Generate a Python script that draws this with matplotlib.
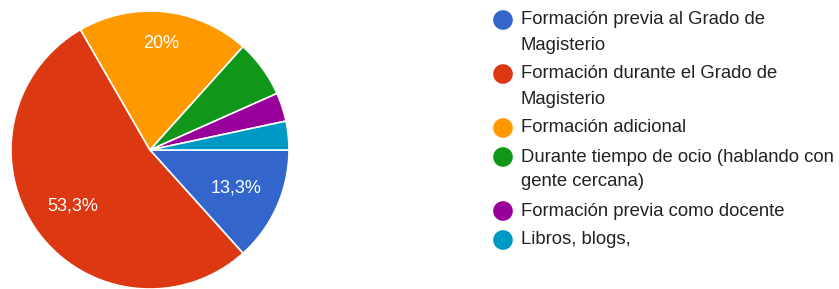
import matplotlib.pyplot as plt
import numpy as np

LABELS = [
    "Formación previa al Grado de\nMagisterio",
    "Formación durante el Grado de\nMagisterio",
    "Formación adicional",
    "Durante tiempo de ocio (hablando con\ngente cercana)",
    "Formación previa como docente",
    "Libros, blogs,",
]
COUNTS = [4, 16, 6, 2, 1, 1]
COLORS = ["#3366cc", "#dc3912", "#ff9900", "#109618", "#990099", "#0099c6"]
SHOWN = ["13,3%", "53,3%", "20%", None, None, None]
LABEL_R = [0.68, 0.69, 0.77, 0, 0, 0]

W, H = 839, 289
plt.rcParams["font.family"] = ["Liberation Sans", "DejaVu Sans"]
fig = plt.figure(figsize=(W / 100, H / 100), dpi=100)

# pie: center at (150, 150) px from top, radius 139 px
ax = fig.add_axes([11 / W, 0 / H, 278 / W, 278 / H])
wedges, _ = ax.pie(COUNTS, colors=COLORS, startangle=0, counterclock=False,
                   wedgeprops=dict(edgecolor="white", linewidth=1.2))
for w, lab, r in zip(wedges, SHOWN, LABEL_R):
    if lab is None:
        continue
    mid = np.deg2rad((w.theta1 + w.theta2) / 2)
    ax.text(r * np.cos(mid), r * np.sin(mid), lab, ha="center", va="center",
            color="white", fontsize=13)
ax.set_xlim(-1, 1)
ax.set_ylim(-1, 1)
ax.set_aspect("equal")
ax.axis("off")

# legend drawn in pixel coordinates
lg = fig.add_axes([0, 0, 1, 1], facecolor="none")
lg.set_xlim(0, W)
lg.set_ylim(H, 0)
lg.axis("off")
y = 20
for lab, c in zip(LABELS, COLORS):
    lg.scatter([503], [y], s=200, color=c, edgecolors="none")
    lines = lab.split("\n")
    for i, line in enumerate(lines):
        lg.text(521, y + i * 25, line, ha="left", va="center", fontsize=13.3, color="#222222")
    y += 25 * (len(lines) - 1) + 29

fig.savefig("out.png", dpi=100)
